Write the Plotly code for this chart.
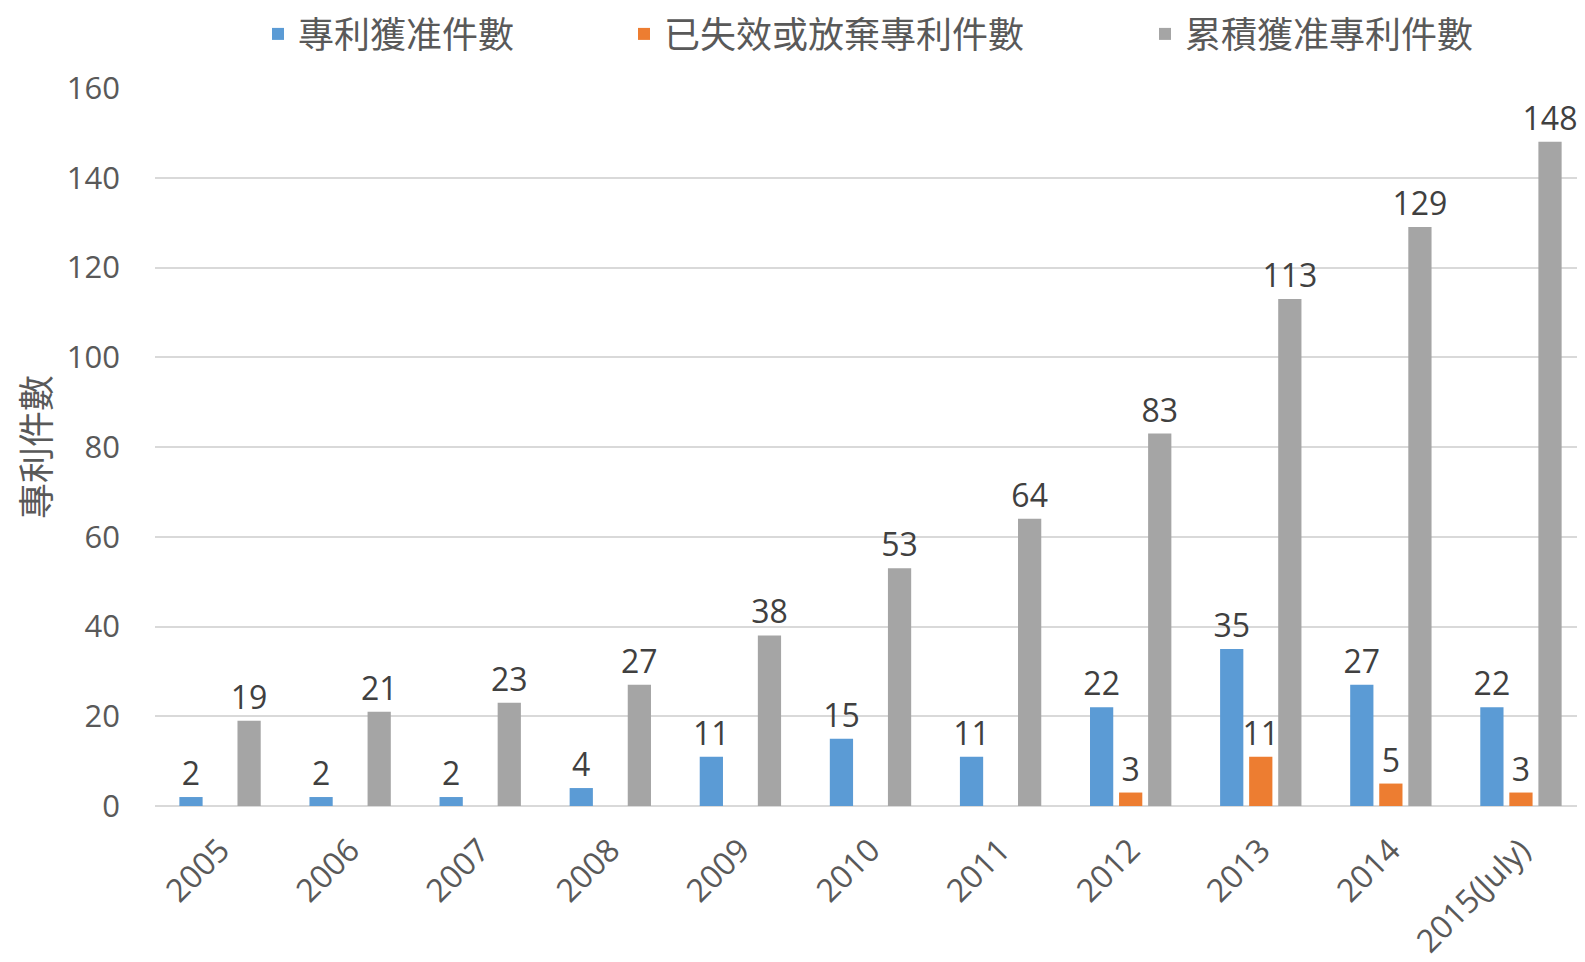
import plotly.graph_objects as go

categories = ["2005", "2006", "2007", "2008", "2009", "2010", "2011", "2012", "2013", "2014", "2015(July)"]
granted = [2, 2, 2, 4, 11, 15, 11, 22, 35, 27, 22]
lapsed = [0, 0, 0, 0, 0, 0, 0, 3, 11, 5, 3]
cumulative = [19, 21, 23, 27, 38, 53, 64, 83, 113, 129, 148]

names = ["專利獲准件數", "已失效或放棄專利件數", "累積獲准專利件數"]
colors = ["#5B9BD5", "#ED7D31", "#A5A5A5"]
series = [granted, lapsed, cumulative]

W, H = 1585, 962
OFF = 8  # page body margin
CJK = "Noto Sans CJK TC"
NUM = "Open Sans"
BW = 6

fig = go.Figure()
legends = ["legend", "legend2", "legend3"]
for name, vals, col, lg in zip(names, series, colors, legends):
    fig.add_trace(go.Bar(
        x=categories, y=vals, name=name,
        marker=dict(color=col, line=dict(width=0)),
        text=[str(v) if v != 0 else "" for v in vals],
        textposition="outside",
        constraintext="none",
        textfont=dict(family=NUM, size=32, color="#404040"),
        cliponaxis=False,
        legend=lg,
        showlegend=True,
    ))

legend_x = [258, 624, 1145]
leg_common = dict(
    orientation="h", xref="container", yref="container",
    yanchor="middle", xanchor="left", y=1 - (34 - OFF) / H,
    bgcolor="rgba(0,0,0,0)", borderwidth=BW, bordercolor="rgba(0,0,0,0)",
    font=dict(family=CJK, size=36, color="#595959"),
    visible=True,
)
fig.update_layout(
    showlegend=True,
    legend=dict(x=(legend_x[0] - OFF - BW) / W, **leg_common),
    legend2=dict(x=(legend_x[1] - OFF - BW) / W, **leg_common),
    legend3=dict(x=(legend_x[2] - OFF - BW) / W, **leg_common),
)

fig.update_layout(
    width=W, height=H,
    paper_bgcolor="white", plot_bgcolor="white",
    margin=dict(l=155 - OFF, r=7, t=88 - OFF, b=156 + OFF, autoexpand=False),
    barmode="group", bargap=0.33, bargroupgap=0.2,
)
fig.update_xaxes(
    type="category", tickangle=-45, showgrid=False, showline=False,
    tickfont=dict(family=NUM, size=32, color="#595959"),
    ticks="", automargin=False, ticklabelstandoff=18,
)
fig.update_yaxes(
    range=[0, 160], dtick=20, showgrid=True, gridcolor="#D9D9D9", gridwidth=1.5,
    zeroline=True, zerolinecolor="#D9D9D9", zerolinewidth=1.5,
    showline=False, ticks="", ticklabelstandoff=34,
    tickfont=dict(family=NUM, size=31, color="#595959"),
    title=dict(text="專利件數", font=dict(family=CJK, size=36, color="#595959"), standoff=15),
    automargin=False,
)
fig.write_html("out.html")
